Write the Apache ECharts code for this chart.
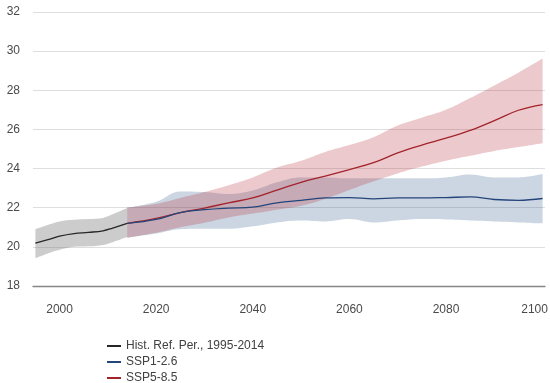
<!DOCTYPE html>
<html><head><meta charset="utf-8">
<script src="https://cdn.jsdelivr.net/npm/echarts@6/dist/echarts.min.js"></script>
<style>html,body{margin:0;padding:0;background:#fff}#c{width:550px;height:383px}</style>
</head><body><div id="c"></div>
<script>
// Historical reference period
const histYears = [1995, 1998, 2000, 2003, 2006, 2009, 2011, 2014];
const histMean  = [20.19, 20.4, 20.55, 20.68, 20.74, 20.82, 20.96, 21.2];
const histUpper = [20.9, 21.15, 21.3, 21.38, 21.42, 21.48, 21.66, 21.98];
const histLower = [19.42, 19.7, 19.85, 20.0, 20.03, 20.1, 20.24, 20.5];

// Projections
const projYears   = [2014, 2020, 2025, 2030, 2035, 2040, 2045, 2050, 2055, 2060, 2065, 2070, 2075, 2080, 2085, 2090, 2095, 2100];
const ssp126Mean  = [21.2, 21.4, 21.75, 21.9, 21.98, 22.03, 22.25, 22.38, 22.5, 22.52, 22.45, 22.5, 22.5, 22.52, 22.55, 22.42, 22.38, 22.47];
const ssp126Upper = [22.0, 22.3, 22.83, 22.8, 22.7, 22.88, 23.3, 23.55, 23.55, 23.5, 23.5, 23.5, 23.5, 23.55, 23.7, 23.55, 23.55, 23.72];
const ssp126Lower = [20.47, 20.68, 20.9, 20.92, 20.92, 21.05, 21.25, 21.35, 21.3, 21.42, 21.25, 21.35, 21.42, 21.4, 21.35, 21.3, 21.25, 21.2];
const ssp585Mean  = [21.2, 21.45, 21.75, 21.98, 22.25, 22.5, 22.9, 23.3, 23.62, 23.95, 24.3, 24.8, 25.2, 25.55, 25.95, 26.45, 26.98, 27.27];
const ssp585Upper = [22.0, 22.2, 22.5, 22.8, 23.15, 23.55, 24.05, 24.4, 24.85, 25.2, 25.6, 26.2, 26.6, 27.0, 27.6, 28.25, 28.9, 29.62];
const ssp585Lower = [20.47, 20.72, 21.0, 21.23, 21.5, 21.7, 21.9, 22.1, 22.45, 22.9, 23.35, 23.75, 24.1, 24.4, 24.65, 24.9, 25.1, 25.3];

const seriesNames = ['Hist. Ref. Per., 1995-2014', 'SSP1-2.6', 'SSP5-8.5'];
const yTicks = [18, 20, 22, 24, 26, 28, 30, 32];

const years = [];
for (let y = 1995; y <= 2100; y++) years.push(String(y));

function pairs(xs, vs) { return xs.map((x, i) => [String(x), vs[i]]); }
function diffs(xs, up, lo) { return xs.map((x, i) => [String(x), +(up[i] - lo[i]).toFixed(3)]); }

const SM = 0.4;
function band(key, xs, up, lo, color) {
  return [
    { name: key + '-lo', type: 'line', stack: key, data: pairs(xs, lo), smooth: SM, symbol: 'none',
      lineStyle: { opacity: 0, width: 0 }, silent: true, z: 1 },
    { name: key + '-band', type: 'line', stack: key, data: diffs(xs, up, lo), smooth: SM, symbol: 'none',
      lineStyle: { opacity: 0, width: 0 }, areaStyle: { color: color, opacity: 1 }, silent: true, z: 1 }
  ];
}
function line(name, xs, vs, color) {
  return { name: name, type: 'line', data: pairs(xs, vs), smooth: SM, symbol: 'none',
    color: color, lineStyle: { color: color, width: 1.3 }, z: 3 };
}

const font = "'Liberation Sans', Arial, sans-serif";
const chart = echarts.init(document.getElementById('c'), null, { renderer: 'canvas' });
chart.setOption({
  animation: false,
  backgroundColor: '#ffffff',
  grid: { left: 33, right: 5, top: 12, bottom: 97, containLabel: false, outerBoundsMode: 'none' },
  legend: {
    data: seriesNames.map((n) => ({ name: n, icon: 'rect' })),
    orient: 'vertical', left: 107, top: 338, height: 80,
    itemWidth: 14, itemHeight: 2, itemGap: 0, padding: 0,
    textStyle: { color: '#404040', fontSize: 12, fontFamily: font, lineHeight: 16 }
  },
  xAxis: {
    type: 'category', data: years, boundaryGap: true,
    axisLine: { show: true, lineStyle: { color: '#868686', width: 1.3 } },
    axisTick: { show: false },
    splitLine: { show: false },
    axisLabel: {
      interval: (i, v) => (+v) % 20 === 0,
      margin: 18, color: '#4a4a4a', fontSize: 12, fontFamily: font,
      formatter: (v) => v === '2100' ? '{r|' + v + '}' : v,
      rich: { r: { padding: [0, 16, 0, 0], color: '#4a4a4a', fontSize: 12, fontFamily: font } }
    }
  },
  yAxis: {
    type: 'value', min: yTicks[0], max: yTicks[yTicks.length - 1], interval: 2,
    axisLine: { show: false }, axisTick: { show: false },
    splitLine: { show: true, lineStyle: { color: '#dedede', width: 1 } },
    axisLabel: { margin: 13, color: '#4a4a4a', fontSize: 12, fontFamily: font }
  },
  series: [
    ...band('hist', histYears, histUpper, histLower, 'rgba(120,120,120,0.38)'),
    ...band('s126', projYears, ssp126Upper, ssp126Lower, 'rgba(50,90,140,0.25)'),
    ...band('s585', projYears, ssp585Upper, ssp585Lower, 'rgba(180,40,50,0.25)'),
    line(seriesNames[0], histYears, histMean, '#262626'),
    line(seriesNames[2], projYears, ssp585Mean, '#a3232b'),
    line(seriesNames[1], projYears, ssp126Mean, '#24457a')
  ]
});
</script></body></html>
